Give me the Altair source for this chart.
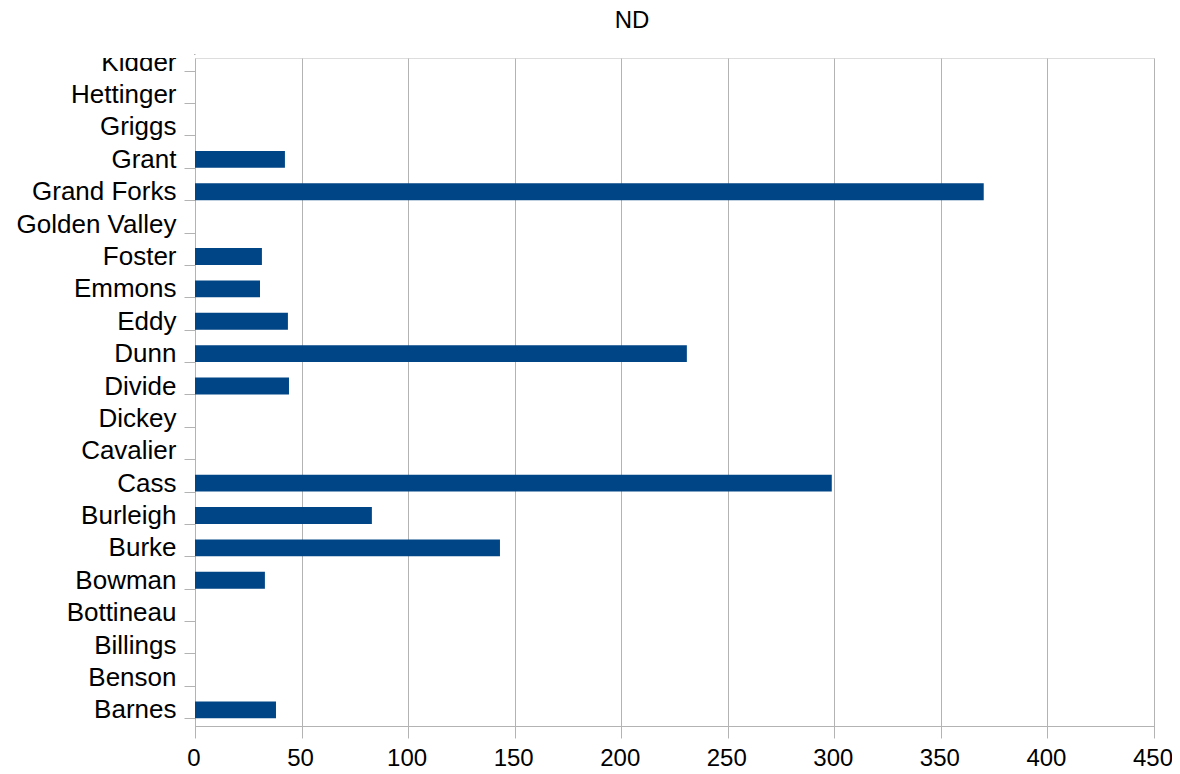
import altair as alt
import pandas as pd

# Categories, top to bottom as drawn
counties = ["Kidder", "Hettinger", "Griggs", "Grant", "Grand Forks", "Golden Valley",
            "Foster", "Emmons", "Eddy", "Dunn", "Divide", "Dickey", "Cavalier",
            "Cass", "Burleigh", "Burke", "Bowman", "Bottineau", "Billings",
            "Benson", "Barnes"]
values = [None, None, None, 42.2, 370.1, None,
          31.4, 30.5, 43.6, 230.8, 44.1, None, None,
          298.8, 83.0, 143.1, 32.8, None, None,
          None, 38.0]
x_ticks = [0, 50, 100, 150, 200, 250, 300, 350, 400, 450]
title_text = ["ND"]

df = pd.DataFrame({"county": counties, "value": values})

FONT = "Liberation Sans"
GRAY = "#b3b3b3"
W, H = 959, 668
STEP = 32.38
N = len(counties)

bars = alt.Chart(df).mark_bar(color="#004586", clip=True).encode(
    x=alt.X("value:Q",
            scale=alt.Scale(domain=[0, 450], nice=False, zero=True),
            axis=alt.Axis(values=x_ticks, title=None, grid=True, gridColor=GRAY,
                          gridWidth=1, domainColor=GRAY, domainWidth=1,
                          tickColor=GRAY, tickSize=11, tickWidth=1,
                          labelFont=FONT, labelFontSize=24, labelColor="#000000",
                          labelPadding=9, labelFlush=False, labelOffset=-1.5)),
    y=alt.Y("county:N",
            sort=counties,
            scale=alt.Scale(domain=counties, range=[H - N * STEP, H],
                            paddingInner=0.48, paddingOuter=0.24),
            axis=alt.Axis(title=None, domain=False, grid=False,
                          tickBand="extent", tickColor=GRAY, tickSize=11,
                          tickWidth=1, labelFont=FONT, labelFontSize=26,
                          labelColor="#000000", labelPadding=8)),
)

mask = alt.Chart(df).mark_rect(color="white", clip=False).encode(
    x=alt.value(-195), x2=alt.value(-1), y=alt.value(-14), y2=alt.value(0)
)

title = alt.Chart(pd.DataFrame({"t": title_text})).mark_text(
    font=FONT, fontSize=24, color="#000000", align="center",
    baseline="alphabetic", clip=False
).encode(text="t:N", x=alt.value(437), y=alt.value(-30))

chart = alt.layer(bars, mask, title).properties(
    width=W, height=H,
    autosize=alt.AutoSizeParams(type="none"),
    padding={"left": 187, "top": 50, "right": 18, "bottom": 48},
).configure_view(stroke=None).configure(background="white")

chart.save("out.html", embed_options={"renderer": "svg", "actions": False})
